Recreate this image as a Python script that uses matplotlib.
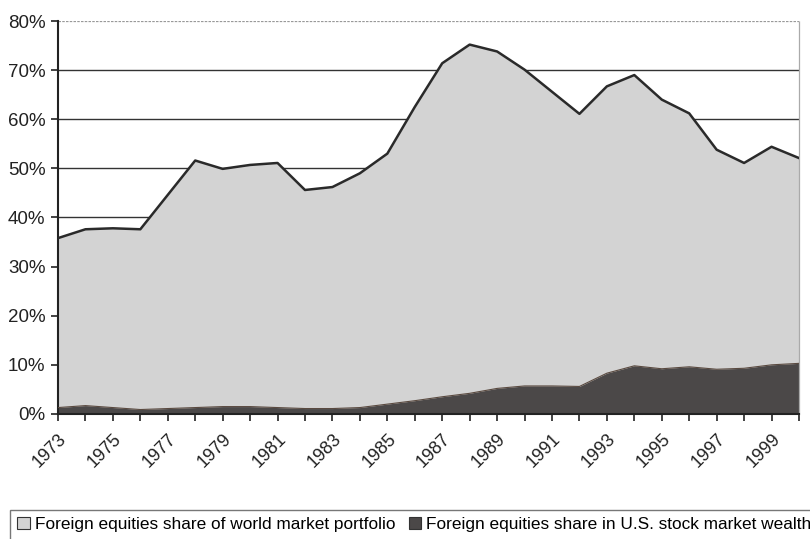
import numpy as np
import matplotlib.pyplot as plt
from matplotlib.patches import Patch

plt.rcParams['font.family'] = ['Liberation Sans', 'DejaVu Sans']

years = list(range(1973, 2001))
world_share = [35.8, 37.6, 37.8, 37.6, 44.6, 51.6, 49.9, 50.7, 51.1, 45.6,
               46.2, 49.0, 53.0, 62.5, 71.4, 75.2, 73.8, 70.1, 65.6, 61.1,
               66.7, 69.0, 64.0, 61.2, 53.8, 51.1, 54.4, 52.1]
us_share = [1.3, 1.7, 1.3, 0.9, 1.1, 1.3, 1.5, 1.5, 1.3, 1.1,
            1.1, 1.3, 2.0, 2.7, 3.5, 4.2, 5.2, 5.7, 5.7, 5.6,
            8.3, 9.8, 9.2, 9.6, 9.1, 9.3, 10.0, 10.3]
yticks = [0, 10, 20, 30, 40, 50, 60, 70, 80]
world_label = 'Foreign equities share of world market portfolio'
us_label = 'Foreign equities share in U.S. stock market wealth'

light = '#d3d3d3'
dark = '#4b4848'

fig = plt.figure(figsize=(8.1, 5.39), dpi=100)
ax = fig.add_axes([0.0716, 0.232, 0.9148, 0.729])

# horizontal gridlines sit behind the areas
for v in yticks[1:-1]:
    ax.axhline(v, color='#333333', lw=1.0, zorder=0)
ax.axhline(80, color='#999999', lw=0.9, ls=(0, (2, 1)), zorder=0)

ax.fill_between(years, 0, world_share, color=light, lw=0, zorder=1)
ax.plot(years, world_share, color='#2a2a2a', lw=1.8, zorder=3)
ax.fill_between(years, 0, us_share, color=dark, lw=0, zorder=2)
ax.plot(years, us_share, color='#5a4a40', lw=0.8, zorder=3)

ax.set_xlim(1973, 2000)
ax.set_ylim(0, 80)
ax.set_yticks(yticks)
ax.set_yticklabels([f'{v}%' for v in yticks], fontsize=13.5, color='#222222')
ax.set_xticks(years)
ax.set_xticklabels([str(y) if (y - 1973) % 2 == 0 and y < 2000 else '' for y in years],
                   rotation=45, ha='right', va='top', rotation_mode='anchor',
                   fontsize=13, color='#222222')
ax.tick_params(axis='both', direction='out', length=5, width=1.2, color='#222222')
ax.tick_params(axis='x', pad=7)
ax.tick_params(axis='y', pad=4)

ax.spines['top'].set_visible(False)
ax.spines['left'].set_color('#222222')
ax.spines['left'].set_linewidth(1.5)
ax.spines['bottom'].set_color('#222222')
ax.spines['bottom'].set_linewidth(1.5)
ax.spines['right'].set_color('#aaaaaa')
ax.spines['right'].set_linestyle((0, (2, 1)))
ax.spines['right'].set_linewidth(0.9)

handles = [Patch(facecolor=light, edgecolor='#333333', lw=0.8, label=world_label),
           Patch(facecolor=dark, edgecolor='#333333', lw=0.8, label=us_label)]
leg = fig.legend(handles=handles, loc='lower left', bbox_to_anchor=(0.012, -0.002),
                 ncol=2, fontsize=12.4, frameon=True, fancybox=False,
                 handlelength=0.7, handleheight=0.7, handletextpad=0.3,
                 columnspacing=0.8, borderpad=0.45, borderaxespad=0)
leg.get_frame().set_edgecolor('#555555')
leg.get_frame().set_linewidth(1.0)

fig.savefig('out.png', dpi=100)
